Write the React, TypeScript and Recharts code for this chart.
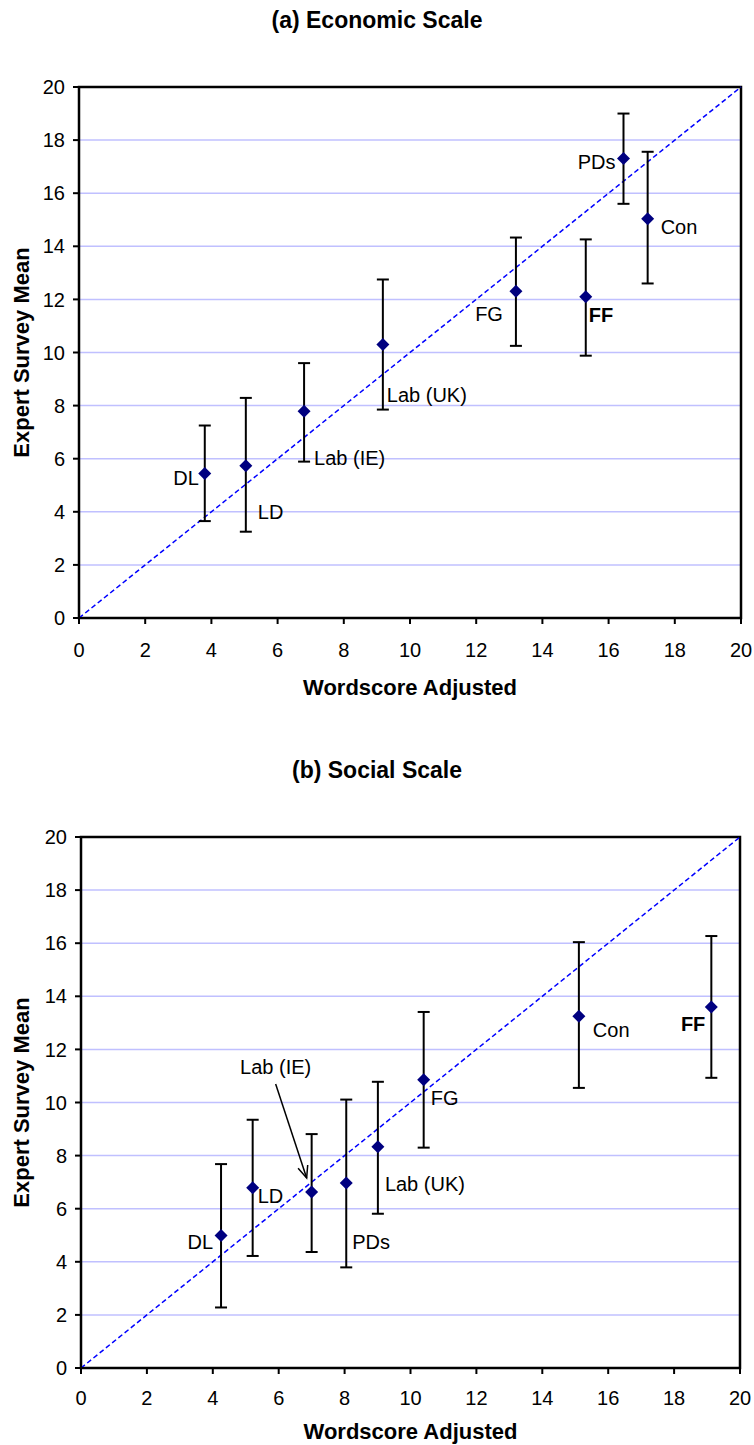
import {
  ScatterChart, Scatter, XAxis, YAxis, CartesianGrid, ErrorBar,
  ReferenceLine, ReferenceArea, Label
} from 'recharts';

const FONT = '"Liberation Sans", Arial, sans-serif';

const parties = ['DL', 'LD', 'Lab (IE)', 'Lab (UK)', 'FG', 'FF', 'PDs', 'Con'];
const axisTicks = [0, 2, 4, 6, 8, 10, 12, 14, 16, 18, 20];

// (a) economic scale
const econX = [3.8, 5.04, 6.8, 9.18, 13.2, 15.31, 16.45, 17.18];
const econY = [5.44, 5.73, 7.79, 10.3, 12.31, 12.1, 17.31, 15.04];
const econLow = [3.65, 3.25, 5.89, 7.85, 10.25, 9.88, 15.6, 12.6];
const econHigh = [7.25, 8.29, 9.6, 12.75, 14.33, 14.26, 19.0, 17.56];

// (b) social scale
const socX = [4.25, 5.21, 7.0, 9.01, 10.4, 19.13, 8.05, 15.11];
const socY = [4.99, 6.79, 6.63, 8.33, 10.86, 13.6, 6.97, 13.25];
const socLow = [2.28, 4.22, 4.37, 5.81, 8.3, 10.93, 3.79, 10.55];
const socHigh = [7.68, 9.35, 8.81, 10.78, 13.41, 16.27, 10.11, 16.04];

type Place = { dx: number; dy: number; anchor: string; bold?: boolean; arrow?: number[] };

// label placement relative to each marker (pixels)
const econPlace: Record<string, Place> = {
  'DL': { dx: -6, dy: 4, anchor: 'end' },
  'LD': { dx: 12, dy: 46, anchor: 'start' },
  'Lab (IE)': { dx: 10, dy: 47, anchor: 'start' },
  'Lab (UK)': { dx: 4, dy: 50, anchor: 'start' },
  'FG': { dx: -13, dy: 23, anchor: 'end' },
  'FF': { dx: 3, dy: 18, anchor: 'start', bold: true },
  'PDs': { dx: -8, dy: 4, anchor: 'end' },
  'Con': { dx: 13, dy: 8, anchor: 'start' },
};

const socPlace: Record<string, Place> = {
  'DL': { dx: -8, dy: 6, anchor: 'end' },
  'LD': { dx: 5, dy: 8, anchor: 'start' },
  'Lab (IE)': { dx: -36, dy: -125, anchor: 'middle', arrow: [-36, -108, -5, -14] },
  'Lab (UK)': { dx: 7, dy: 37, anchor: 'start' },
  'FG': { dx: 7, dy: 18, anchor: 'start' },
  'FF': { dx: -6, dy: 17, anchor: 'end', bold: true },
  'PDs': { dx: 6, dy: 59, anchor: 'start' },
  'Con': { dx: 14, dy: 14, anchor: 'start' },
};

function buildRows(xs: number[], ys: number[], lows: number[], highs: number[]) {
  return parties.map((name, i) => ({
    name,
    x: xs[i],
    y: ys[i],
    err: [ys[i] - lows[i], highs[i] - ys[i]],
  }));
}

const makeShape = (place: Record<string, Place>) => (props: any) => {
  const { cx, cy, payload } = props;
  const p = place[payload.name];
  let arrow = null;
  if (p.arrow) {
    const [x1, y1, x2, y2] = p.arrow;
    const ang = Math.atan2(y2 - y1, x2 - x1);
    const len = 13;
    const a1 = ang + Math.PI - 0.4;
    const a2 = ang + Math.PI + 0.4;
    const tx = cx + x2, ty = cy + y2;
    arrow = (
      <g stroke="#000" strokeWidth={1.5} fill="none">
        <line x1={cx + x1} y1={cy + y1} x2={tx} y2={ty} />
        <polyline points={`${tx + len * Math.cos(a1)},${ty + len * Math.sin(a1)} ${tx},${ty} ${tx + len * Math.cos(a2)},${ty + len * Math.sin(a2)}`} />
      </g>
    );
  }
  return (
    <g>
      <polygon points={`${cx},${cy - 6.5} ${cx + 6.5},${cy} ${cx},${cy + 6.5} ${cx - 6.5},${cy}`} fill="#000080" />
      <text
        x={cx + p.dx}
        y={cy + p.dy}
        textAnchor={p.anchor as any}
        dominantBaseline="central"
        fontSize={20}
        fontWeight={p.bold ? 'bold' : 'normal'}
        fontFamily={FONT}
        fill="#000"
      >
        {payload.name}
      </text>
      {arrow}
    </g>
  );
};

function Panel({ title, rows, place, top, height, yWidth, right, xTitleOffset, tickGap }: any) {
  const tickStyle = { fill: '#000', fontSize: 20, fontFamily: FONT };
  return (
    <div style={{ position: 'absolute', left: 0, top, width: 754, height }}>
      <div style={{
        position: 'absolute', left: 0, top: 0, width: 754, textAlign: 'center',
        fontWeight: 'bold', fontSize: 23, lineHeight: '40px', fontFamily: FONT
      }}>
        {title}
      </div>
      <ScatterChart width={754} height={height} margin={{ top: 87, right, left: 0, bottom: height - 695 }}>
        <CartesianGrid vertical={false} stroke="#c0c0ff" strokeWidth={1.5} />
        <XAxis
          type="number" dataKey="x" domain={[0, 20]} ticks={axisTicks} height={77}
          tick={tickStyle} tickSize={6} tickMargin={tickGap}
          stroke="#000" strokeWidth={2}
        >
          <Label content={({ viewBox }: any) => (
            <text x={viewBox.x + viewBox.width / 2} y={viewBox.y + xTitleOffset} textAnchor="middle"
              dominantBaseline="central" fontSize={22} fontWeight="bold" fontFamily={FONT}>
              Wordscore Adjusted
            </text>
          )} />
        </XAxis>
        <YAxis
          type="number" dataKey="y" domain={[0, 20]} ticks={axisTicks} width={yWidth}
          tick={tickStyle} tickSize={6} tickMargin={8}
          stroke="#000" strokeWidth={2}
        >
          <Label content={({ viewBox }: any) => {
            const cy = viewBox.y + viewBox.height / 2;
            return (
              <text x={21} y={cy} textAnchor="middle" dominantBaseline="central"
                transform={`rotate(-90 21 ${cy})`} fontSize={22} fontWeight="bold" fontFamily={FONT}>
                Expert Survey Mean
              </text>
            );
          }} />
        </YAxis>
        <ReferenceArea x1={0} x2={20} y1={0} y2={20} fill="none" stroke="#000" strokeWidth={2.5} ifOverflow="visible" />
        <ReferenceLine
          segment={[{ x: 0, y: 0 }, { x: 20, y: 20 }]}
          stroke="#0000ff" strokeWidth={1.5} strokeDasharray="5 3"
        />
        <Scatter data={rows} dataKey="y" shape={makeShape(place)} isAnimationActive={false}>
          <ErrorBar dataKey="err" direction="y" width={6} stroke="#000" strokeWidth={2} isAnimationActive={false} />
        </Scatter>
      </ScatterChart>
    </div>
  );
}

export default function App() {
  const econRows = buildRows(econX, econY, econLow, econHigh);
  const socRows = buildRows(socX, socY, socLow, socHigh);
  return (
    <div style={{ position: 'absolute', left: 0, top: 0, width: 754, height: 1445, background: '#fff', fontFamily: FONT, overflow: 'hidden' }}>
      <Panel title="(a) Economic Scale" rows={econRows} place={econPlace} top={0} height={715}
        yWidth={79} right={13} xTitleOffset={69} tickGap={19} />
      <Panel title="(b) Social Scale" rows={socRows} place={socPlace} top={750} height={695}
        yWidth={81} right={14} xTitleOffset={63} tickGap={17} />
    </div>
  );
}
